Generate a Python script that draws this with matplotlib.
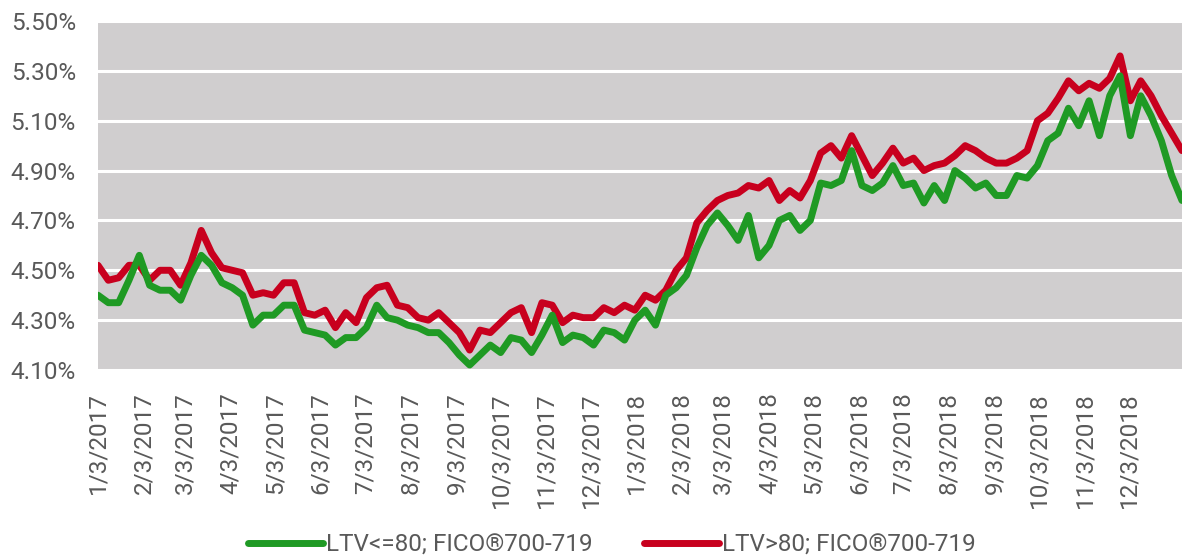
import pandas as pd
import matplotlib
matplotlib.use("Agg")
import matplotlib.pyplot as plt

# Weekly readings of the two rate series, starting 1/3/2017
start_date = "2017-01-03"

ltv_low = [
    4.40, 4.37, 4.37, 4.46, 4.56, 4.44, 4.42, 4.42, 4.38, 4.48,
    4.56, 4.52, 4.45, 4.43, 4.40, 4.28, 4.32, 4.32, 4.36, 4.36,
    4.26, 4.25, 4.24, 4.20, 4.23, 4.23, 4.27, 4.36, 4.31, 4.30,
    4.28, 4.27, 4.25, 4.25, 4.21, 4.16, 4.12, 4.16, 4.20, 4.17,
    4.23, 4.22, 4.17, 4.24, 4.32, 4.21, 4.24, 4.23, 4.20, 4.26,
    4.25, 4.22, 4.30, 4.34, 4.28, 4.40, 4.43, 4.48, 4.59, 4.68,
    4.73, 4.68, 4.62, 4.72, 4.55, 4.60, 4.70, 4.72, 4.66, 4.70,
    4.85, 4.84, 4.86, 4.98, 4.84, 4.82, 4.85, 4.92, 4.84, 4.85,
    4.77, 4.84, 4.78, 4.90, 4.87, 4.83, 4.85, 4.80, 4.80, 4.88,
    4.87, 4.92, 5.02, 5.05, 5.15, 5.08, 5.18, 5.04, 5.20, 5.28,
    5.04, 5.20, 5.12, 5.02, 4.88, 4.78,
]

ltv_high = [
    4.52, 4.46, 4.47, 4.52, 4.52, 4.46, 4.50, 4.50, 4.44, 4.53,
    4.66, 4.57, 4.51, 4.50, 4.49, 4.40, 4.41, 4.40, 4.45, 4.45,
    4.33, 4.32, 4.34, 4.27, 4.33, 4.29, 4.39, 4.43, 4.44, 4.36,
    4.35, 4.31, 4.30, 4.33, 4.29, 4.25, 4.18, 4.26, 4.25, 4.29,
    4.33, 4.35, 4.25, 4.37, 4.36, 4.29, 4.32, 4.31, 4.31, 4.35,
    4.33, 4.36, 4.34, 4.40, 4.38, 4.42, 4.50, 4.55, 4.69, 4.74,
    4.78, 4.80, 4.81, 4.84, 4.83, 4.86, 4.78, 4.82, 4.79, 4.86,
    4.97, 5.00, 4.95, 5.04, 4.96, 4.88, 4.93, 4.99, 4.93, 4.95,
    4.90, 4.92, 4.93, 4.96, 5.00, 4.98, 4.95, 4.93, 4.93, 4.95,
    4.98, 5.10, 5.13, 5.19, 5.26, 5.22, 5.25, 5.23, 5.27, 5.36,
    5.18, 5.26, 5.20, 5.12, 5.05, 4.98,
]

y_ticks = [4.10, 4.30, 4.50, 4.70, 4.90, 5.10, 5.30, 5.50]
label_low = "LTV<=80; FICO®700-719"
label_high = "LTV>80; FICO®700-719"

dates = pd.date_range(start_date, periods=len(ltv_low), freq="7D")
tick_dates = pd.date_range(start_date, "2018-12-03", freq=pd.DateOffset(months=1))

plt.rcParams["font.family"] = ["Roboto", "DejaVu Sans"]

fig = plt.figure(figsize=(11.82, 5.60), dpi=100)
ax = fig.add_axes([98 / 1182, 1 - 370 / 560, 1 - 98 / 1182, 349 / 560])
ax.set_facecolor("#d0cecf")

# Red drawn first so the green line sits on top where they touch
red_line, = ax.plot(dates, ltv_high, color="#c8001e", linewidth=5,
                    solid_capstyle="round", solid_joinstyle="round", zorder=3)
green_line, = ax.plot(dates, ltv_low, color="#1f9a24", linewidth=5,
                      solid_capstyle="round", solid_joinstyle="round", zorder=4)

ax.set_xlim(dates[0], dates[-1])
ax.set_ylim(4.10, 5.50)
ax.set_yticks(y_ticks)
ax.set_yticklabels([f"{v:.2f}%" for v in y_ticks])
ax.set_xticks(tick_dates)
ax.set_xticklabels([f"{d.month}/{d.day}/{d.year}" for d in tick_dates],
                   rotation=90, va="top", ha="center")

ax.grid(axis="y", color="white", linewidth=2.2)
ax.set_axisbelow(True)
for spine in ax.spines.values():
    spine.set_visible(False)
ax.tick_params(axis="both", length=0, labelsize=17.5, colors="#595959")
ax.tick_params(axis="y", pad=16)
ax.tick_params(axis="x", pad=16)

fig.legend([green_line, red_line], [label_low, label_high],
           loc="center", bbox_to_anchor=(612 / 1182, 1 - 545 / 560),
           ncol=2, frameon=False, fontsize=17.5, labelcolor="#595959",
           handlelength=3.1, handletextpad=0.12, columnspacing=2.1)

fig.savefig("out.png", dpi=100)
